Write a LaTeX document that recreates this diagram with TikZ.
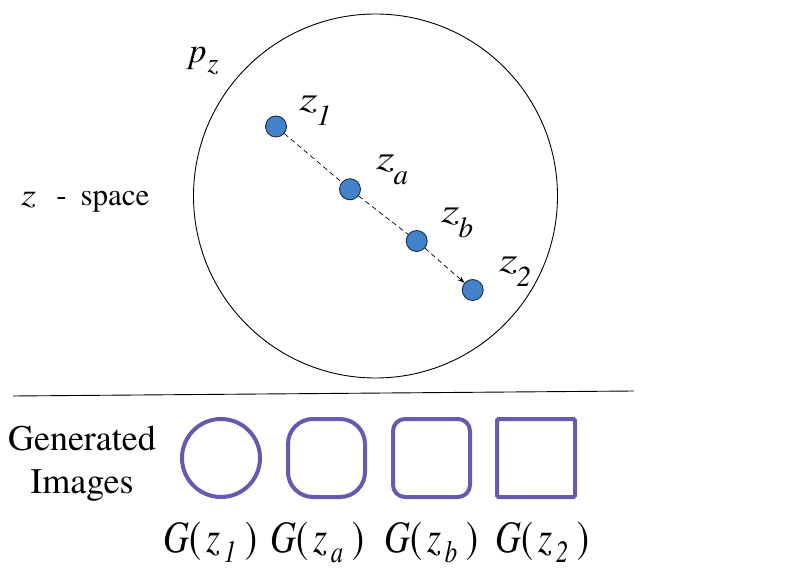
\documentclass[tikz,border=0pt]{standalone}
\usepackage{fontspec}
\setmainfont{texgyretermes-regular.otf}[ItalicFont=texgyretermes-italic.otf,BoldFont=texgyretermes-bold.otf]
\usetikzlibrary{arrows.meta}
\definecolor{dotblue}{RGB}{65,130,200}
\definecolor{dotedge}{RGB}{25,45,75}
\definecolor{shapepurple}{RGB}{106,88,176}
% top label: wide italic z with lowered italic subscript
\newcommand\upzlabel[1]{\scalebox{1.4}[1]{\fontsize{34}{34}\selectfont\itshape z}\kern-1pt\raisebox{-15pt}{\fontsize{29}{29}\selectfont\itshape #1}}
% bottom label G( z_x ), set slightly narrow
\newcommand\bottomlabel[1]{\scalebox{0.8}[1]{\fontsize{45}{45}\selectfont\textit{G}(\hspace{7pt}\textit{z}\kern4pt\raisebox{-10pt}{\fontsize{31}{31}\selectfont\itshape #1}\hspace{12pt})}}
\begin{document}
\begin{tikzpicture}[x=1pt,y=-1pt,
  dot/.style={circle,fill=dotblue,draw=dotedge,line width=0.9pt,minimum size=21pt,inner sep=0pt},
  lbl/.style={inner sep=0pt,anchor=base west},
  imgshape/.style={draw=shapepurple,line width=4pt,inner sep=0pt,minimum width=77pt,minimum height=78pt},
  conn/.style={dash pattern=on 5pt off 3.5pt,line width=0.7pt}]
\useasboundingbox (0,0) rectangle (795,585);
% latent space circle
\node[draw,circle,minimum size=364pt,inner sep=0pt,line width=0.9pt] (space) at (375.5,196) {};
% points
\node[dot] (z1) at (276,126.5) {};
\node[dot] (za) at (350,189.3) {};
\node[dot] (zb) at (416.7,241) {};
\node[dot] (z2) at (472.7,290) {};
\draw[conn] (z1) -- (za);
\draw[conn] (za) -- (zb);
\draw[conn,-{Stealth[length=7pt,width=5pt]}] (zb) -- (z2);
% labels
\node[lbl] (pz) at (189,63) {\fontsize{35}{35}\selectfont\itshape p\kern1pt\raisebox{-10pt}{\fontsize{28}{28}\selectfont z}};
\node[lbl] (l1) at (299,111) {\upzlabel{1}};
\node[lbl] (la) at (376,170) {\upzlabel{a}};
\node[lbl] (lb) at (441,223) {\upzlabel{b}};
\node[lbl] (l2) at (499,272) {\upzlabel{2}};
\node[lbl] (zspace) at (21,206) {\fontsize{31}{31}\selectfont\scalebox{1.25}[1]{\itshape z}\hspace{20pt}-\hspace{14pt}space};
% divider
\coordinate (d1) at (13,396);
\coordinate (d2) at (634,391);
\draw[line width=0.9pt] (d1) -- (d2);
% generated images
\node[inner sep=0pt,anchor=base] (gen) at (82,450) {\fontsize{36}{36}\selectfont Generated};
\node[inner sep=0pt,anchor=base] (imgs) at (82,493) {\fontsize{36}{36}\selectfont Images};
\node[imgshape,circle,minimum size=78pt] (s1) at (221,458) {};
\node[imgshape,rectangle,rounded corners=25pt] (s2) at (326.5,458) {};
\node[imgshape,rectangle,rounded corners=12pt] (s3) at (431.5,458) {};
\node[imgshape,rectangle,rounded corners=1.5pt,minimum width=78pt] (s4) at (536,458) {};
\node[lbl] (g1) at (163,552) {\bottomlabel{1}};
\node[lbl] (g2) at (270,552) {\bottomlabel{a}};
\node[lbl] (g3) at (384,552) {\bottomlabel{b}};
\node[lbl] (g4) at (495,552) {\bottomlabel{2}};
\end{tikzpicture}
\end{document}
